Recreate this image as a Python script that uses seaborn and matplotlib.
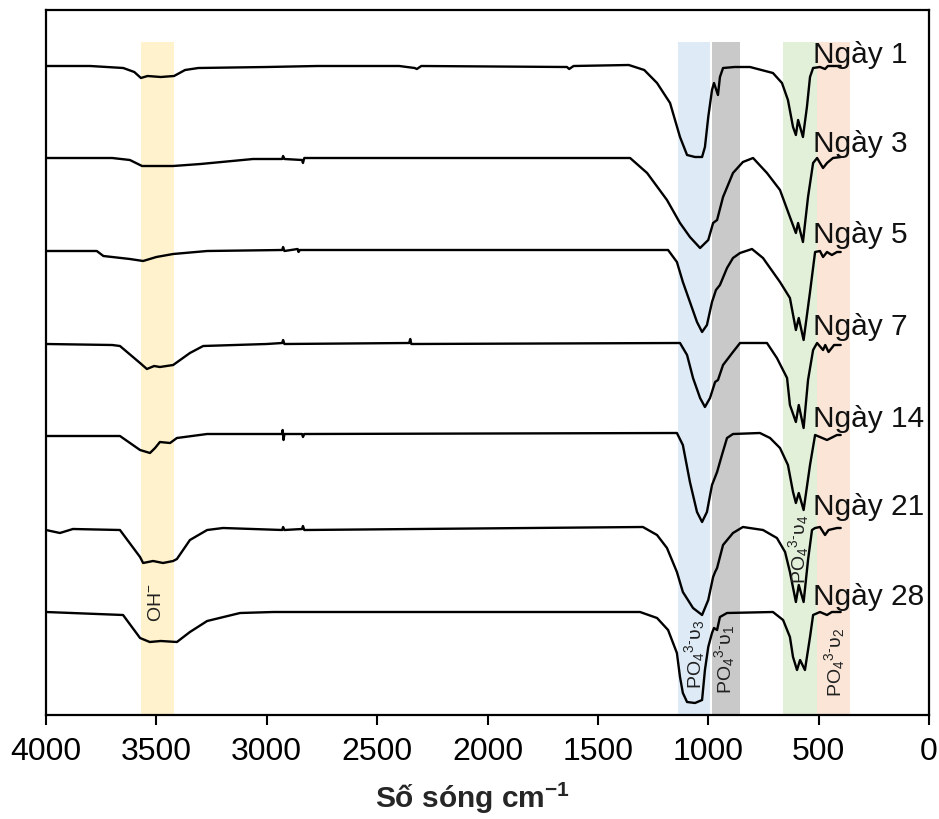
import matplotlib
matplotlib.use("Agg")
import matplotlib.pyplot as plt
import seaborn as sns
import pandas as pd

# ---------------- data ----------------
days = ["Ngày 1", "Ngày 3", "Ngày 5", "Ngày 7", "Ngày 14", "Ngày 21", "Ngày 28"]

day1_wn = [4000, 3800, 3650, 3600, 3570, 3540, 3480, 3420, 3370, 3310, 3000, 2770, 2400, 2330, 2320, 2300,
           1640, 1630, 1610, 1360, 1290, 1232, 1173, 1128, 1096, 1060, 1028, 1015, 1000, 983, 974, 956, 947,
           933, 880, 811, 707, 666, 639, 616, 603, 593, 580, 571, 553, 539, 525, 494, 471, 458, 400]
day1_t = [649, 649, 647, 643, 637, 639, 638, 639, 645, 647, 648, 649, 649, 647, 646, 649,
          648, 646, 649, 650, 645, 632, 612, 578, 560, 558, 558, 568, 598, 625, 632, 620, 638,
          647, 648, 648, 642, 632, 615, 588, 580, 595, 585, 578, 608, 638, 647, 648, 646, 649, 649]

day3_wn = [4000, 3700, 3620, 3565, 3500, 3424, 3300, 3062, 2930, 2926, 2920, 2840, 2836, 2830, 1354, 1277,
           1187, 1128, 1083, 1037, 1000, 978, 960, 933, 888, 843, 797, 734, 675, 630, 603, 593, 571, 548,
           525, 507, 480, 462, 435, 400]
day3_t = [557, 557, 555, 549, 549, 549, 551, 556, 556, 559, 556, 555, 552, 557, 557, 542,
          515, 492, 478, 467, 475, 492, 495, 518, 542, 553, 557, 542, 525, 498, 482, 492, 473, 518,
          552, 557, 547, 552, 557, 558]

day5_wn = [4000, 3770, 3740, 3700, 3620, 3560, 3500, 3424, 3270, 2930, 2926, 2920, 2860, 2856, 2850, 1182,
           1142, 1115, 1083, 1051, 1028, 1006, 983, 965, 947, 915, 888, 856, 802, 752, 675, 630, 603, 590,
           568, 539, 516, 494, 480, 462, 440, 417, 400]
day5_t = [464, 464, 459, 458, 456, 454, 458, 461, 464, 465, 468, 464, 466, 463, 465, 465,
          453, 433, 413, 393, 383, 390, 413, 425, 430, 447, 457, 462, 466, 457, 433, 417, 385, 397,
          375, 423, 463, 464, 458, 463, 460, 463, 463]

day7_wn = [4000, 3700, 3665, 3574, 3543, 3510, 3484, 3424, 3348, 3288, 3000, 2930, 2926, 2920, 2355, 2350,
           2345, 1128, 1096, 1069, 1037, 1015, 992, 969, 956, 933, 888, 856, 734, 689, 643, 630, 603, 590,
           568, 548, 525, 507, 480, 470, 455, 430, 400]
day7_t = [371, 370, 369, 352, 346, 349, 348, 350, 362, 369, 371, 372, 375, 371, 372, 376,
          371, 372, 360, 337, 317, 308, 317, 333, 335, 350, 363, 372, 372, 357, 337, 310, 293, 310,
          287, 335, 365, 372, 365, 370, 363, 370, 370]

day14_wn = [4000, 3665, 3574, 3529, 3506, 3484, 3438, 3407, 3270, 2930, 2928, 2924, 2920, 2840, 2836, 2830,
            1142, 1115, 1083, 1051, 1028, 1006, 983, 960, 938, 915, 888, 766, 720, 675, 639, 616, 603, 590,
            568, 539, 516, 494, 462, 417, 400]
day14_t = [279, 279, 265, 262, 267, 273, 272, 277, 281, 281, 285, 275, 281, 281, 278, 281,
           282, 270, 233, 203, 193, 203, 230, 243, 260, 277, 281, 282, 277, 267, 250, 223, 212, 222,
           205, 250, 280, 278, 275, 280, 280]

day21_wn = [4000, 3937, 3878, 3665, 3574, 3560, 3515, 3470, 3424, 3407, 3348, 3270, 3198, 2930, 2926, 2920,
            2840, 2836, 2830, 1296, 1232, 1187, 1142, 1115, 1069, 1028, 1000, 978, 969, 960, 933, 888, 843,
            752, 689, 652, 630, 603, 590, 568, 548, 530, 516, 494, 471, 455, 417, 400]
day21_t = [185, 182, 186, 185, 158, 152, 154, 152, 154, 156, 175, 185, 187, 185, 188, 185,
           186, 189, 185, 188, 180, 167, 143, 123, 107, 100, 115, 138, 143, 147, 170, 182, 188,
           185, 177, 163, 143, 113, 130, 113, 155, 185, 187, 188, 180, 185, 187, 187]

day28_wn = [4000, 3651, 3574, 3530, 3480, 3407, 3348, 3270, 3121, 2970, 1309, 1232, 1182, 1142, 1128, 1115,
            1096, 1060, 1028, 1015, 1000, 983, 974, 960, 947, 915, 707, 661, 630, 616, 598, 584, 562, 539,
            525, 494, 462, 440, 400]
day28_t = [103, 100, 77, 73, 74, 73, 83, 94, 102, 103, 103, 97, 85, 62, 38, 22,
           13, 12, 15, 45, 68, 82, 87, 85, 98, 102, 103, 95, 78, 58, 45, 55, 45, 78,
           100, 103, 100, 103, 103]

label_baseline = [652, 563, 472, 380, 288, 200, 110]

# shaded band ranges (cm-1) and colours
band_lo = [3420, 992, 856, 507, 358]
band_hi = [3570, 1137, 985, 661, 507]
band_colors = ["#FFF2CC", "#DEEBF7", "#C9C9C9", "#E2F0D9", "#FBE5D6"]

band_text = [r"OH$^{-}$",
             r"PO$_4{}^{3\text{-}}\mathrm{υ}_3$",
             r"PO$_4{}^{3\text{-}}\mathrm{υ}_1$",
             r"PO$_4{}^{3\text{-}}\mathrm{υ}_4$",
             r"PO$_4{}^{3\text{-}}\mathrm{υ}_2$"]
band_text_x = [3500, 1060, 924, 593, 430]
band_text_y = [112, 61, 55, 166, 52]

# ---------------- figure ----------------
sns.set_theme(style="white")
plt.rcParams["font.family"] = ["Liberation Sans", "DejaVu Sans"]
plt.rcParams["mathtext.fontset"] = "custom"
plt.rcParams["mathtext.rm"] = "Liberation Sans"
plt.rcParams["mathtext.it"] = "Liberation Sans"
plt.rcParams["mathtext.bf"] = "Liberation Sans:bold"

W, H = 939, 819
fig = plt.figure(figsize=(W / 100, H / 100), dpi=100)
ax = fig.add_axes([46 / W, 1 - 715 / H, (929 - 46) / W, (715 - 10) / H])

YMAX = 705
for lo, hi, c in zip(band_lo, band_hi, band_colors):
    ax.axvspan(lo, hi, ymin=0, ymax=673 / YMAX, color=c, lw=0, zorder=0)

all_wn = [day1_wn, day3_wn, day5_wn, day7_wn, day14_wn, day21_wn, day28_wn]
all_t = [day1_t, day3_t, day5_t, day7_t, day14_t, day21_t, day28_t]
frames = [pd.DataFrame({"wn": w, "t": t, "day": d}) for d, w, t in zip(days, all_wn, all_t)]
df = pd.concat(frames, ignore_index=True)

sns.lineplot(data=df, x="wn", y="t", hue="day", palette={d: "black" for d in days},
             estimator=None, legend=False, lw=1.7, ax=ax, zorder=3)

for d, yb in zip(days, label_baseline):
    ax.text(526, yb, d, ha="left", va="baseline", fontsize=21.5, color="#111111", zorder=4)

for s, x, y in zip(band_text, band_text_x, band_text_y):
    ax.text(x, y, s, rotation=90, ha="center", va="center", fontsize=14, color="#222222", zorder=4)

ax.set_xlim(4000, 0)
ax.set_ylim(0, YMAX)
ax.set_xticks(range(0, 4001, 500))
ax.set_yticks([])
ax.tick_params(axis="x", bottom=True, direction="out", length=7, width=1.5, color="black",
               labelsize=23, pad=9, labelcolor="black")
for s in ax.spines.values():
    s.set_color("black")
    s.set_linewidth(1.6)
ax.set_ylabel("")
ax.set_xlabel("Số sóng cm$^{\\mathbf{-1}}$", fontsize=21.5, fontweight="bold", labelpad=10,
              x=0.483, ha="center")

fig.savefig("out.png", dpi=100)
